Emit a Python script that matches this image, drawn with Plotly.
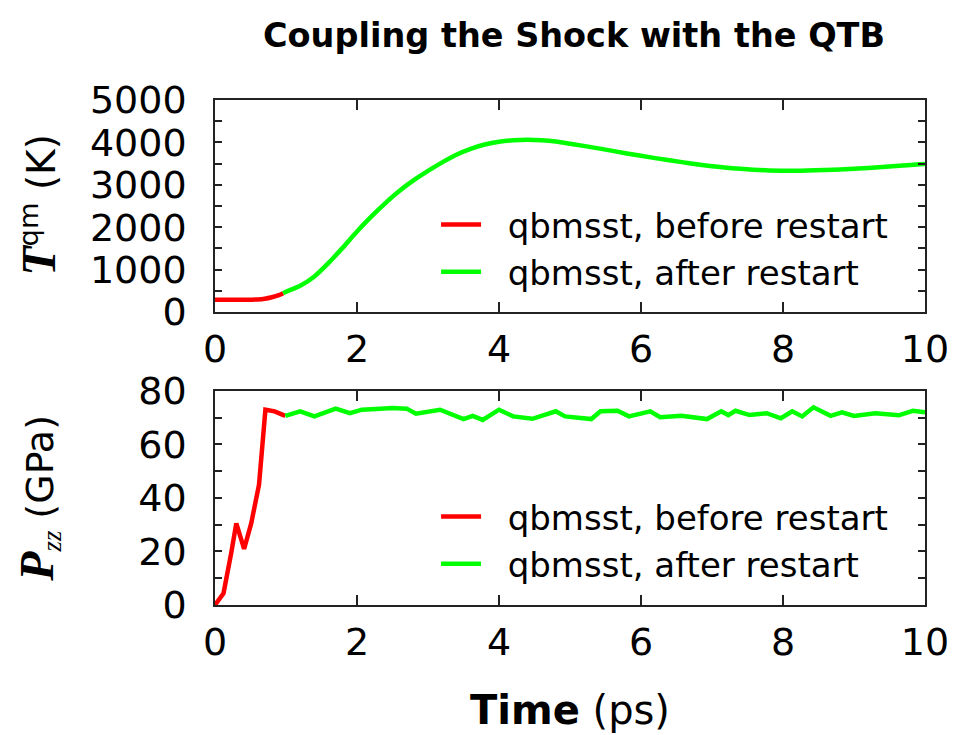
import plotly.graph_objects as go

# ---------------- data ----------------
t_T_before = [0.0, 0.1, 0.2, 0.3, 0.4, 0.5, 0.6, 0.7, 0.8, 0.9, 0.96]
T_before = [290, 290, 290, 290, 290, 292, 298, 315, 350, 400, 445]

t_T_after = [0.96, 1.0, 1.2, 1.4, 1.6, 1.8, 2.0, 2.2, 2.4, 2.6, 2.8, 3.0, 3.2, 3.4,
             3.6, 3.8, 4.0, 4.2, 4.4, 4.6, 4.8, 5.0, 5.4, 5.8, 6.2, 6.6, 7.0, 7.4,
             7.8, 8.2, 8.6, 9.0, 9.4, 9.8, 10.0]
T_after = [445, 480, 620, 840, 1160, 1520, 1900, 2250, 2570, 2860, 3110, 3330, 3530, 3710,
           3850, 3950, 4015, 4050, 4060, 4050, 4020, 3970, 3860, 3740, 3630, 3530, 3440, 3380,
           3340, 3330, 3350, 3380, 3420, 3470, 3490]

t_P_before = [0.0, 0.12, 0.23, 0.30, 0.41, 0.51, 0.62, 0.71, 0.84, 0.99]
P_before = [0.0, 4.4, 19.7, 30.5, 21.0, 30.5, 45.0, 73.0, 72.4, 70.7]

t_P_after = [0.99, 1.2, 1.4, 1.7, 1.9, 2.07, 2.33, 2.5, 2.7, 2.83, 3.17, 3.33, 3.5, 3.63,
             3.77, 4.0, 4.2, 4.47, 4.8, 4.93, 5.3, 5.43, 5.67, 5.83, 6.13, 6.27, 6.57,
             6.93, 7.13, 7.23, 7.33, 7.53, 7.77, 7.97, 8.13, 8.27, 8.43, 8.67, 8.83,
             9.0, 9.3, 9.63, 9.83, 10.0]
P_after = [70.7, 72.4, 70.5, 73.4, 71.7, 73.0, 73.4, 73.6, 73.4, 71.5, 73.0, 71.5, 69.5, 70.7,
           69.2, 73.0, 70.5, 69.6, 72.4, 70.5, 69.5, 72.4, 72.6, 70.5, 72.4, 70.2, 70.7,
           69.5, 72.4, 71.0, 72.6, 71.0, 71.7, 69.8, 72.4, 70.5, 73.9, 70.7, 72.0,
           70.7, 71.7, 70.9, 72.6, 72.0]

x_ticks = [0, 2, 4, 6, 8, 10]
T_ticks = [0, 1000, 2000, 3000, 4000, 5000]
P_ticks = [0, 20, 40, 60, 80]

name_before = "\u00a0\u00a0qbmsst, before restart"
name_after = "\u00a0\u00a0qbmsst, after restart"
RED = "#ff0000"
GREEN = "#00ff00"
LW = 4.5

# ---------------- figure ----------------
fig = go.Figure()
fig.add_trace(go.Scatter(x=t_T_before, y=T_before, mode="lines", name=name_before,
                         line=dict(color=RED, width=LW, shape="spline", smoothing=0.8),
                         xaxis="x", yaxis="y", legend="legend"))
fig.add_trace(go.Scatter(x=t_T_after, y=T_after, mode="lines", name=name_after,
                         line=dict(color=GREEN, width=LW, shape="spline", smoothing=0.8),
                         xaxis="x", yaxis="y", legend="legend"))
fig.add_trace(go.Scatter(x=t_P_before, y=P_before, mode="lines", name=name_before,
                         line=dict(color=RED, width=LW), xaxis="x2", yaxis="y2", legend="legend2"))
fig.add_trace(go.Scatter(x=t_P_after, y=P_after, mode="lines", name=name_after,
                         line=dict(color=GREEN, width=LW), xaxis="x2", yaxis="y2", legend="legend2"))

SANS = "DejaVu Sans"
tickfont = dict(family=SANS, size=38, color="black")

common_x = dict(range=[0, 10], tickvals=x_ticks, ticks="inside", ticklen=10, tickwidth=1.5,
                tickcolor="#222", showline=True, linecolor="#222", linewidth=1.5,
                mirror="ticks", showgrid=False, zeroline=False, tickfont=tickfont,
                ticklabelstandoff=3)
common_y = dict(ticks="inside", ticklen=7, tickwidth=1.5, tickcolor="#222", showline=True,
                linecolor="#222", linewidth=1.5, mirror="ticks", showgrid=False,
                zeroline=False, tickfont=tickfont, ticklabelstandoff=19)

# the page body adds an 8 px offset; the figure is sized so the frame lands where it should
W, H = 953, 727
ML, MR, MT, MB = 207, 33, 92, 130
PH = H - MT - MB  # 505
PW = W - ML - MR  # 713


def px_y(yp):
    # window pixel y -> paper fraction
    return (H - MB - (yp - 8)) / PH


def px_x(xp):
    return ((xp - 8) - ML) / PW


legend_style = dict(xanchor="left", yanchor="top", bgcolor="rgba(0,0,0,0)",
                    font=dict(family=SANS, size=34, color="black"), itemwidth=40,
                    tracegroupgap=0)

fig.update_layout(
    width=W, height=H,
    margin=dict(l=ML, r=MR, t=MT, b=MB),
    plot_bgcolor="white", paper_bgcolor="white",
    xaxis=dict(domain=[0, 1], anchor="y", **common_x),
    yaxis=dict(domain=[0.580, 1.0], anchor="x", range=[0, 5000], tickvals=T_ticks,
               minor=dict(dtick=500, ticks="inside", ticklen=7, tickcolor="#222", tickwidth=1.5),
               **common_y),
    xaxis2=dict(domain=[0, 1], anchor="y2", **common_x),
    yaxis2=dict(domain=[0.0, 0.4238], anchor="x2", range=[0, 80], tickvals=P_ticks,
                minor=dict(dtick=10, ticks="inside", ticklen=7, tickcolor="#222", tickwidth=1.5),
                **common_y),
    legend=dict(x=px_x(437), y=px_y(196), **legend_style),
    legend2=dict(x=px_x(437), y=px_y(488), **legend_style),
    showlegend=True,
)

SERIF = "Liberation Serif"
annotations = [
    dict(text="<b>Coupling the Shock with the QTB</b>", x=0.505, y=px_y(35),
         font=dict(family=SANS, size=33.5, color="black")),
    dict(text="<b>Time</b> (ps)", x=0.5, y=px_y(710),
         font=dict(family=SANS, size=40, color="black")),
    dict(text=f"<span style='font-family:{SERIF};font-size:48px'><b><i>T</i></b></span>"
              "<sup>qm</sup> (K)",
         x=px_x(37), y=px_y(205), textangle=-90,
         font=dict(family=SANS, size=39, color="black")),
    dict(text=f"<span style='font-family:{SERIF};font-size:48px'><b><i>P</i></b></span>"
              f"<span style='font-family:{SERIF}'><sub><i>zz</i></sub></span> (GPa)",
         x=px_x(37), y=px_y(498), textangle=-90,
         font=dict(family=SANS, size=38, color="black")),
]
for a in annotations:
    a.update(xref="paper", yref="paper", showarrow=False, xanchor="center", yanchor="middle")
fig.update_layout(annotations=annotations)

fig.write_html("out.html")
